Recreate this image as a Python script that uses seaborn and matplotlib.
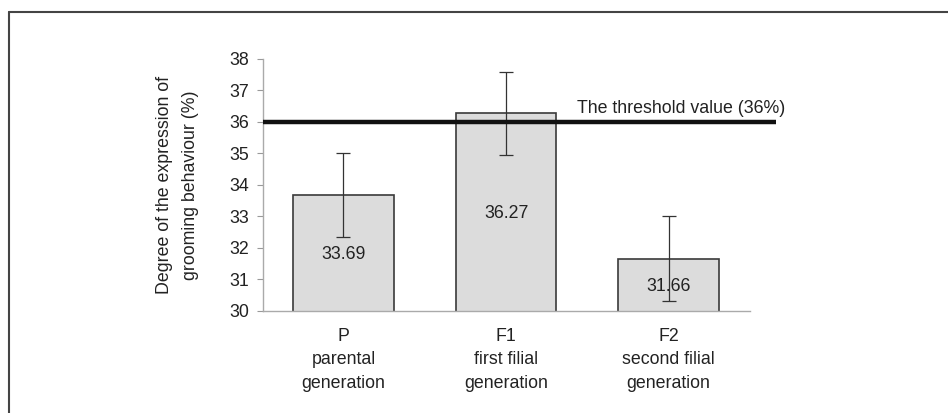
import matplotlib
matplotlib.use("Agg")
import matplotlib.pyplot as plt
from matplotlib.lines import Line2D
import seaborn as sns
import pandas as pd

# ---- data ----
categories = ["P\nparental\ngeneration", "F1\nfirst filial\ngeneration", "F2\nsecond filial\ngeneration"]
means = [33.69, 36.27, 31.66]
errors = [1.34, 1.33, 1.35]
value_labels = ["33.69", "36.27", "31.66"]
threshold = 36
threshold_label = "The threshold value (36%)"
y_ticks = [30, 31, 32, 33, 34, 35, 36, 37, 38]
y_label = "Degree of the expression of\ngrooming behaviour (%)"

sns.set_theme(style="white")
plt.rcParams["font.family"] = ["Liberation Sans", "DejaVu Sans"]

TXT = "#222222"
fs = 12.8

df = pd.DataFrame({"cat": categories, "mean": means})

fig = plt.figure(figsize=(9.48, 4.13), dpi=100)
ax = fig.add_axes([0.2774, 0.2470, 0.5137, 0.6102])

sns.barplot(data=df, x="cat", y="mean", ax=ax, color="#dcdcdc",
            edgecolor="#3a3a3a", linewidth=1.2, width=0.62,
            errorbar=None, saturation=1)

ax.errorbar(range(len(means)), means, yerr=errors, fmt="none",
            ecolor="#333333", elinewidth=0.9, capsize=5, capthick=0.9, zorder=5)

for i, (m, lab) in enumerate(zip(means, value_labels)):
    ax.text(i, (30 + m) / 2 - 0.05, lab, ha="center", va="center",
            fontsize=fs, color=TXT, zorder=6)

ax.set_ylim(30, 38)
ax.set_xlim(-0.495, 2.5)
ax.set_yticks(y_ticks)
ax.set_yticklabels([str(t) for t in y_ticks], fontsize=fs, color=TXT)
ax.set_xticks(range(len(categories)))
ax.set_xticklabels(categories, fontsize=fs, color=TXT, linespacing=1.5)
ax.set_xlabel("")

ax.plot([-0.495, 2.66], [threshold, threshold], color="#111111", lw=3.2,
        clip_on=False, zorder=7, solid_capstyle="butt")
ax.text(1.437, 36.28, threshold_label, ha="left", va="baseline",
        fontsize=fs, color=TXT)

for s in ["top", "right"]:
    ax.spines[s].set_visible(False)
for s in ["left", "bottom"]:
    ax.spines[s].set_color("#aaaaaa")
    ax.spines[s].set_linewidth(1.0)

ax.tick_params(axis="y", length=4, width=0.8, color="#999999", pad=6, left=True, direction="out")
ax.tick_params(axis="x", length=0, pad=12)

ax.set_ylabel(y_label, fontsize=fs, color=TXT, va="center", linespacing=1.7)
ax.yaxis.set_label_coords(-0.176, 0.5)

# outer frame (top and left edges visible)
fig.add_artist(Line2D([9 / 948, 1.0], [1 - 12 / 413, 1 - 12 / 413],
                      transform=fig.transFigure, color="#444444", lw=1.5))
fig.add_artist(Line2D([9 / 948, 9 / 948], [1 - 12 / 413, 0.0],
                      transform=fig.transFigure, color="#444444", lw=1.5))

fig.savefig("out.png", dpi=100)
